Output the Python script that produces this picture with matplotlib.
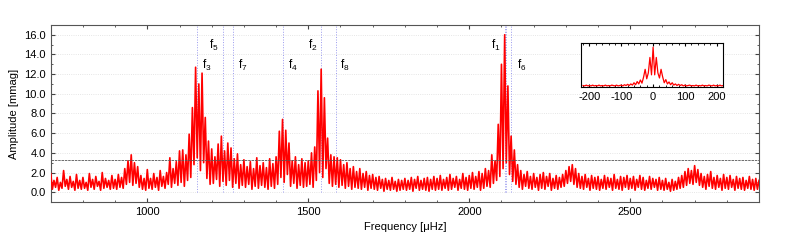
import numpy as np
import matplotlib
matplotlib.use("Agg")
import matplotlib.pyplot as plt
from matplotlib.ticker import MultipleLocator

plt.rcParams['font.family'] = ['Liberation Sans', 'DejaVu Sans']
plt.rcParams['mathtext.fontset'] = 'custom'
plt.rcParams['mathtext.rm'] = 'Liberation Sans'
plt.rcParams['mathtext.it'] = 'Liberation Sans'
plt.rcParams['axes.unicode_minus'] = False

# local maxima of the amplitude spectrum, every 10 uHz from 700 to 2900
peak_freq = np.arange(700, 2901, 10)
peak_amp = [
    1.9, 1.2, 1.5, 1.0, 2.2, 1.3, 1.6, 1.1, 1.8, 1.2,   # 700
    1.5, 1.0, 1.9, 1.3, 1.6, 1.1, 2.0, 1.4, 1.2, 1.7,   # 800
    1.3, 1.8, 1.5, 2.4, 3.2, 3.8, 3.0, 2.6, 1.7, 1.4,   # 900
    2.3, 1.4, 1.9, 1.5, 2.2, 1.6, 2.0, 3.5, 2.4, 3.1,   # 1000
    4.2, 4.3, 3.8, 5.9, 8.6, 12.7, 11.0, 12.1, 7.6, 5.2,  # 1100
    4.4, 3.6, 4.9, 5.7, 4.2, 5.0, 4.5, 3.4, 3.9, 2.8,   # 1200
    3.3, 2.6, 3.1, 2.4, 3.5, 2.7, 3.0, 2.5, 3.4, 2.9,   # 1300
    3.6, 6.2, 7.4, 6.3, 5.0, 3.2, 3.6, 2.8, 3.4, 3.0,   # 1400
    3.2, 4.0, 4.6, 10.3, 12.5, 9.6, 5.5, 3.8, 3.6, 3.5,  # 1500
    3.3, 2.8, 3.0, 2.4, 2.6, 2.1, 2.4, 1.9, 2.1, 1.7,   # 1600
    1.8, 1.5, 1.6, 1.3, 1.4, 1.2, 1.5, 1.1, 1.3, 1.2,   # 1700
    1.4, 1.2, 1.5, 1.3, 1.6, 1.2, 1.4, 1.5, 1.3, 1.6,   # 1800
    1.4, 1.7, 1.3, 1.5, 1.8, 1.4, 1.6, 1.3, 1.9, 1.5,   # 1900
    1.7, 2.0, 1.6, 2.1, 1.9, 2.4, 2.2, 3.8, 3.2, 6.9,   # 2000
    13.0, 16.0, 10.8, 5.7, 4.3, 2.8, 2.2, 1.8, 2.1, 1.6,  # 2100
    1.9, 1.5, 1.8, 2.0, 1.6, 1.9, 1.4, 1.7, 1.5, 1.8,   # 2200
    2.2, 2.6, 2.8, 2.4, 1.9, 1.6, 1.8, 1.4, 1.7, 1.5,   # 2300
    1.6, 1.3, 1.7, 1.5, 1.4, 1.8, 1.3, 1.6, 1.5, 1.7,   # 2400
    1.4, 1.6, 1.3, 1.7, 1.5, 1.2, 1.6, 1.4, 1.3, 1.5,   # 2500
    1.2, 1.4, 1.0, 1.3, 1.1, 1.5, 1.7, 2.1, 2.4, 2.2,   # 2600
    2.7, 2.3, 1.9, 1.6, 1.8, 2.1, 1.5, 1.7, 1.4, 1.8,   # 2700
    1.5, 1.7, 1.3, 1.6, 1.4, 1.5, 1.2, 1.6, 1.3, 1.4,   # 2800
    1.2,
]

# local minima between them, every 10 uHz from 705 to 2895
dip_freq = np.arange(705, 2900, 10)
dip_amp = [
    0.3, 0.5, 0.2, 0.4, 0.6, 0.3, 0.5, 0.2, 0.4, 0.3,   # 700
    0.4, 0.2, 0.5, 0.3, 0.6, 0.2, 0.4, 0.5, 0.3, 0.4,   # 800
    0.3, 0.5, 0.4, 0.8, 1.0, 0.7, 0.9, 0.5, 0.3, 0.2,   # 900
    0.4, 0.3, 0.5, 0.2, 0.6, 0.4, 0.8, 0.5, 0.9, 0.7,   # 1000
    1.0, 0.6, 1.2, 1.5, 2.8, 3.5, 2.2, 3.0, 1.4, 0.8,   # 1100
    0.9, 1.3, 0.6, 1.1, 0.7, 1.2, 0.5, 0.9, 0.4, 0.7,   # 1200
    0.5, 0.8, 0.3, 0.6, 0.4, 0.7, 0.5, 0.3, 0.6, 0.4,   # 1300
    0.8, 1.5, 1.0, 1.8, 0.6, 0.9, 0.4, 0.7, 0.5, 0.6,   # 1400
    0.8, 0.5, 1.2, 2.0, 1.5, 2.4, 0.9, 0.6, 0.8, 0.5,   # 1500
    0.7, 0.4, 0.6, 0.3, 0.5, 0.4, 0.3, 0.5, 0.2, 0.4,   # 1600
    0.3, 0.2, 0.4, 0.1, 0.3, 0.2, 0.3, 0.1, 0.2, 0.3,   # 1700
    0.2, 0.3, 0.1, 0.4, 0.2, 0.3, 0.2, 0.1, 0.3, 0.2,   # 1800
    0.3, 0.2, 0.4, 0.2, 0.3, 0.5, 0.2, 0.4, 0.3, 0.2,   # 1900
    0.4, 0.3, 0.5, 0.2, 0.4, 0.6, 0.5, 0.9, 1.2, 1.6,   # 2000
    2.4, 3.0, 1.8, 1.1, 0.8, 0.5, 0.3, 0.6, 0.4, 0.3,   # 2100
    0.5, 0.2, 0.4, 0.3, 0.6, 0.2, 0.4, 0.3, 0.5, 0.6,   # 2200
    0.9, 1.1, 0.8, 0.5, 0.4, 0.3, 0.5, 0.2, 0.4, 0.3,   # 2300
    0.2, 0.4, 0.3, 0.5, 0.2, 0.4, 0.3, 0.2, 0.5, 0.3,   # 2400
    0.4, 0.2, 0.5, 0.3, 0.2, 0.4, 0.3, 0.5, 0.2, 0.3,   # 2500
    0.2, 0.3, 0.1, 0.2, 0.3, 0.4, 0.5, 0.7, 0.9, 0.8,   # 2600
    1.0, 0.7, 0.5, 0.3, 0.6, 0.4, 0.3, 0.5, 0.2, 0.4,   # 2700
    0.3, 0.5, 0.2, 0.4, 0.3, 0.2, 0.4, 0.3, 0.2, 0.3,   # 2800
]

# identified frequencies
freq_names = ['f$_1$', 'f$_2$', 'f$_3$', 'f$_4$', 'f$_5$', 'f$_6$', 'f$_7$', 'f$_8$']
freq_values = [2111, 1541, 1153, 1421, 1234, 2131, 1265, 1587]
label_offsets = [-30, -27, 32, 32, -28, 31, 33, 28]
label_heights = [14.9, 14.9, 12.9, 12.9, 14.9, 12.9, 12.9, 12.9]
extra_line = 2114

threshold = 3.31

# spectral window (inset), offsets every 5 uHz
win_freq = np.arange(-220, 221, 5)
win_amp = [
    0.03, 0.02, 0.04, 0.02, 0.03, 0.02, 0.04, 0.02, 0.03, 0.02, 0.04, 0.02,
    0.03, 0.02, 0.04, 0.02, 0.03, 0.02, 0.04, 0.03, 0.02, 0.04, 0.02, 0.03,
    0.04, 0.02, 0.05, 0.03, 0.06, 0.03, 0.07, 0.04, 0.10, 0.05, 0.13, 0.07,
    0.17, 0.09, 0.24, 0.44, 0.20, 0.35, 0.74, 0.30, 1.00, 0.30, 0.74, 0.35,
    0.22, 0.44, 0.25, 0.10, 0.18, 0.07, 0.12, 0.05, 0.10, 0.04, 0.07, 0.03,
    0.06, 0.03, 0.05, 0.02, 0.04,
    0.02, 0.03, 0.04, 0.02, 0.03, 0.02, 0.04, 0.02, 0.03, 0.02, 0.04, 0.02,
    0.03, 0.02, 0.04, 0.03, 0.02, 0.04, 0.02, 0.03, 0.02, 0.04, 0.02, 0.03,
]


def main():
    spec_f = np.concatenate([peak_freq, dip_freq])
    spec_a = np.concatenate([peak_amp, dip_amp])
    order = np.argsort(spec_f)
    spec_f, spec_a = spec_f[order], spec_a[order]

    fig = plt.figure(figsize=(7.89, 2.47), dpi=100)
    ax = fig.add_axes([0.0643, 0.182, 0.8977, 0.717])

    ax.plot(spec_f, spec_a, color='red', lw=1.2, zorder=3)
    ax.axhline(threshold, color='#555555', lw=0.6, ls=(0, (3, 1)), zorder=4)
    for f in freq_values + [extra_line]:
        ax.vlines(f, 0, 17, color='#9999ee', lw=0.7, ls=':', zorder=2)
    for name, f, dx, h in zip(freq_names, freq_values, label_offsets, label_heights):
        ax.text(f + dx, h, name, ha='center', va='center', fontsize=8.5)

    ax.set_xlim(700, 2900)
    ax.set_ylim(-1, 17)
    ax.xaxis.set_major_locator(MultipleLocator(500))
    ax.xaxis.set_minor_locator(MultipleLocator(100))
    ax.yaxis.set_major_locator(MultipleLocator(2))
    ax.yaxis.set_minor_locator(MultipleLocator(1))
    ax.yaxis.set_major_formatter(plt.FormatStrFormatter('%.1f'))
    ax.tick_params(which='both', direction='in', top=True, right=True,
                   labelsize=8, color='#444444')
    ax.tick_params(which='major', length=3)
    ax.tick_params(which='minor', length=1.5)
    ax.grid(True, axis='y', color='#dddddd', ls=':', lw=0.6)
    for s in ax.spines.values():
        s.set_color('#555555')
    ax.set_xlabel('Frequency [μHz]', fontsize=8, labelpad=4)
    ax.set_ylabel('Amplitude [mmag]', fontsize=8, labelpad=4)

    ins = fig.add_axes([0.737, 0.649, 0.1795, 0.176])
    ins.plot(win_freq, win_amp, color='red', lw=0.9)
    ins.set_xlim(-225, 220)
    ins.set_ylim(0, 1.1)
    ins.set_yticks([])
    ins.xaxis.set_major_locator(MultipleLocator(100))
    ins.xaxis.set_minor_locator(MultipleLocator(20))
    ins.tick_params(which='both', direction='in', top=True, labelsize=8)
    ins.tick_params(which='major', length=2.5)
    ins.tick_params(which='minor', length=1.5)

    fig.savefig('out.png', dpi=100)


if __name__ == '__main__':
    main()
